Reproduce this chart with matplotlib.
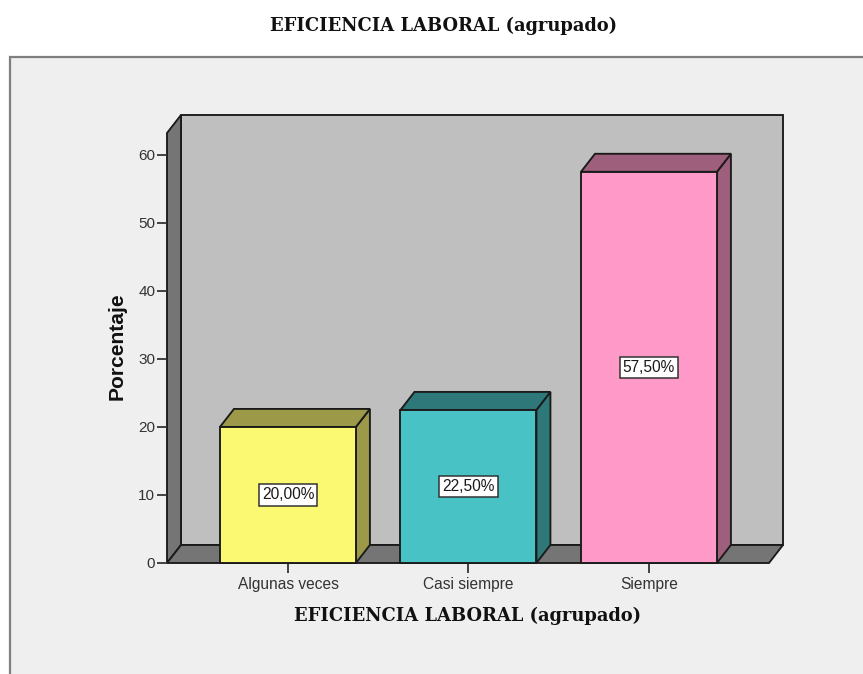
import matplotlib
matplotlib.use("Agg")
import matplotlib.pyplot as plt
from matplotlib.patches import Polygon, Rectangle

categories = ["Algunas veces", "Casi siempre", "Siempre"]
values = [20.0, 22.5, 57.5]
value_labels = ["20,00%", "22,50%", "57,50%"]
yticks = [0, 10, 20, 30, 40, 50, 60]
front_colors = ["#fbf871", "#48c2c5", "#fe99c8"]
side_colors = ["#9c9a48", "#2e787a", "#9e5f7c"]
title = "EFICIENCIA LABORAL (agrupado)"
ylabel = "Porcentaje"

W, H = 863, 674
fig = plt.figure(figsize=(W / 100, H / 100), dpi=100, facecolor="white")

# outer frame
fig.add_artist(Rectangle((9.5 / W, -0.02), 1.02, (H - 57) / H + 0.02, transform=fig.transFigure,
                         facecolor="#efefef", edgecolor="#7f7f7f", linewidth=1.6, zorder=-1))

L, R, T, B = 167, 769, 133, 563
ax = fig.add_axes([L / W, 1 - B / H, (R - L) / W, (B - T) / H])
ax.set_xlim(-0.670, 2.665)
ax.set_ylim(0, 63.2)
ax.patch.set_visible(False)
for s in ax.spines.values():
    s.set_visible(False)

ux = (R - L) / (ax.get_xlim()[1] - ax.get_xlim()[0])
uy = (B - T) / ax.get_ylim()[1]
dx, dy = 14 / ux, 18 / uy
x0, x1 = ax.get_xlim()
ymax = ax.get_ylim()[1]
lw = 1.35
EC = "#1a1a1a"


def poly(pts, fc, z=2, ec=EC, w=lw):
    ax.add_patch(Polygon(pts, closed=True, facecolor=fc, edgecolor=ec, linewidth=w,
                         joinstyle="miter", clip_on=False, zorder=z))


# back wall, left wall, floor
poly([(x0 + dx, dy), (x1 + dx, dy), (x1 + dx, ymax + dy), (x0 + dx, ymax + dy)], "#bfbfbf", 1)
poly([(x0, 0), (x0 + dx, dy), (x0 + dx, ymax + dy), (x0, ymax)], "#757575", 1.2)
poly([(x0, 0), (x1, 0), (x1 + dx, dy), (x0 + dx, dy)], "#757575", 1.2)

# bars
bw = 0.753
for i, v in enumerate(values):
    a, b = i - bw / 2, i + bw / 2
    poly([(b, 0), (b + dx, dy), (b + dx, v + dy), (b, v)], side_colors[i], 3)
    poly([(a, v), (b, v), (b + dx, v + dy), (a + dx, v + dy)], side_colors[i], 3)
    ax.bar(i, v, width=bw, color=front_colors[i], edgecolor=EC, linewidth=lw, zorder=4, clip_on=False)
    ax.text(i, v / 2, value_labels[i], ha="center", va="center", fontsize=11.2,
            family="Liberation Sans", color="#1a1a1a", zorder=6,
            bbox=dict(boxstyle="square,pad=0.2", facecolor="white", edgecolor="#333333", linewidth=1.1))

ax.set_yticks(yticks)
ax.set_xticks(range(len(categories)))
ax.set_xticklabels(categories)
ax.tick_params(axis="y", length=7.5, width=1.3, color="#333333", pad=1, labelsize=11, labelcolor="#333333")
ax.tick_params(axis="x", length=7, width=1.3, color="#333333", pad=3, labelsize=11.2, labelcolor="#333333")
for t in ax.get_xticklabels() + ax.get_yticklabels():
    t.set_family("Liberation Sans")

fig.text(443.5 / W, 1 - 26 / H, title, ha="center", va="center", family="DejaVu Serif",
         fontweight="bold", fontsize=12.85, color="#111111")
fig.text(467.5 / W, 1 - 615.5 / H, title, ha="center", va="center", family="DejaVu Serif",
         fontweight="bold", fontsize=12.85, color="#111111")
fig.text(117 / W, 1 - 346 / H, ylabel, rotation=90, ha="center", va="center",
         family="Liberation Sans", fontweight="bold", fontsize=15.1, color="#111111")

fig.savefig("out.png", dpi=100, facecolor=fig.get_facecolor())
